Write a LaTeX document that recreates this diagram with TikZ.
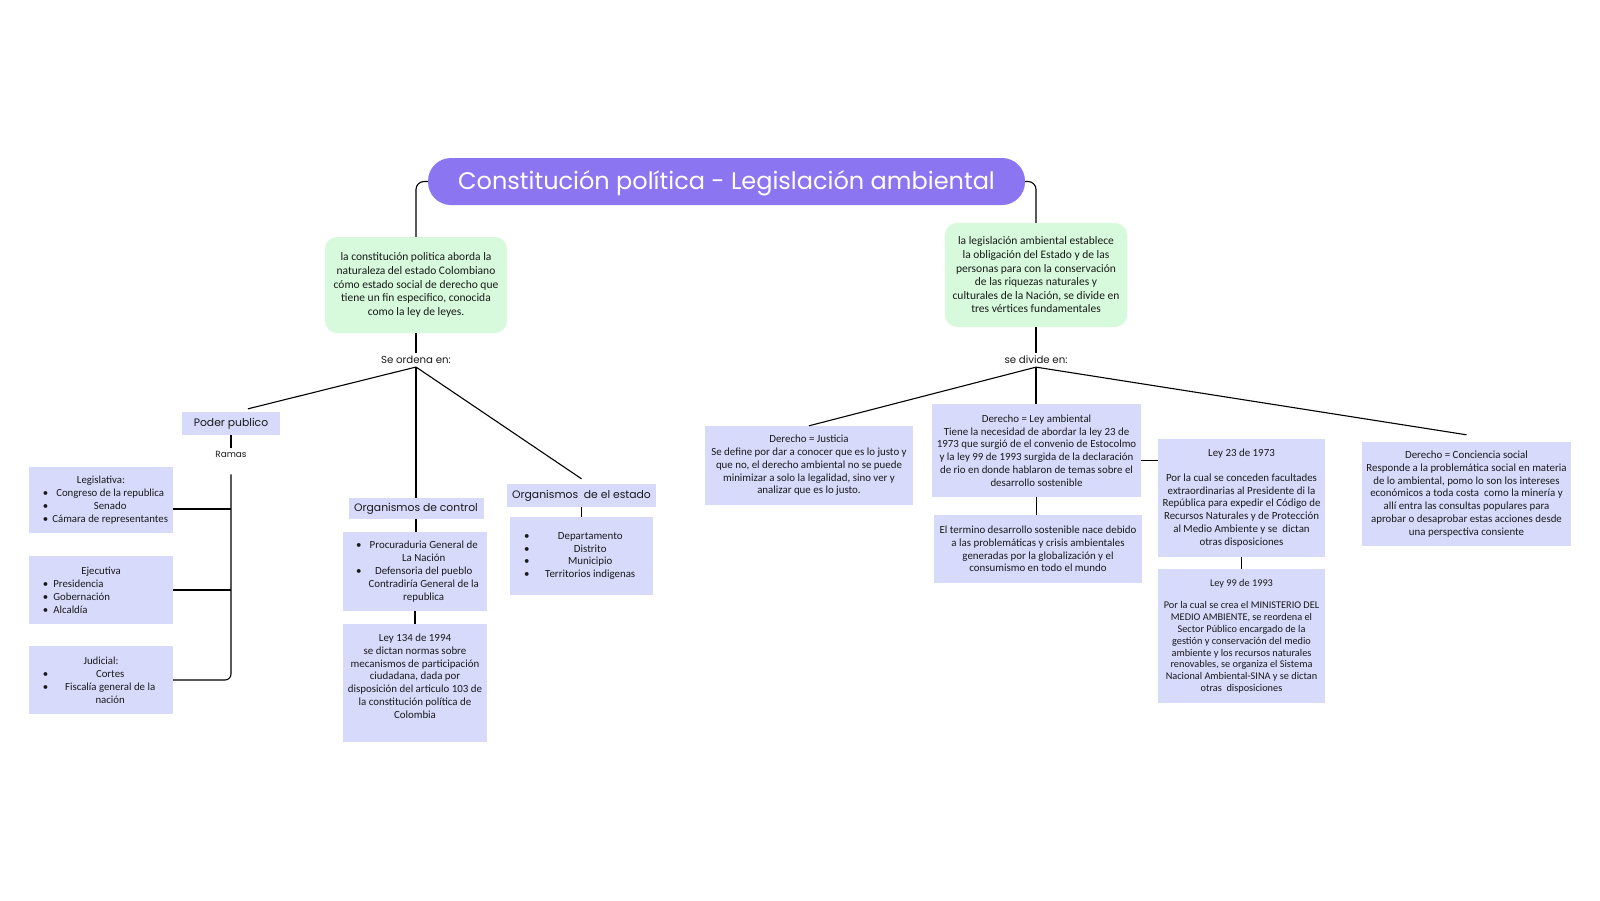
\documentclass[tikz,border=0pt]{standalone}
\usepackage{fontspec}
\setmainfont{Carlito}
\newfontfamily\headfont{Poppins}
\usepackage{tikz}
\usetikzlibrary{positioning}
\definecolor{titlepurple}{RGB}{139,117,241}
\definecolor{mint}{RGB}{215,250,220}
\definecolor{lavender}{RGB}{216,218,252}
\definecolor{ink}{RGB}{25,25,25}

% bullet lines: shift, width, text
\newcommand{\bitem}[3]{\hbox{\hskip#1\hbox to #2{\textbullet\hfil #3\hfil}}}
\newcommand{\litem}[3]{\hbox{\hskip#1\hbox to #2{\textbullet\hskip5pt #3\hfil}}}
\newcommand{\nitem}[3]{\hbox{\hskip#1\hbox to #2{\phantom{\textbullet}\hfil #3\hfil}}}

\tikzset{
  mainbox/.style={fill=titlepurple, text=white, rounded corners=23pt, inner sep=0pt,
    text height=16.7pt, text depth=0pt, font=\headfont\fontsize{24}{28}\selectfont},
  notebox/.style={fill=mint, text=ink, rounded corners=12pt, align=center, inner sep=0pt,
    font=\fontsize{11.5}{13.6}\selectfont},
  leafbox/.style={fill=lavender, text=ink, align=center, inner sep=0pt,
    font=\fontsize{10.9}{12.8}\selectfont},
  sidebox/.style={leafbox, font=\fontsize{10.8}{13}\selectfont,
    minimum width=144pt, minimum height=68pt},
  tagbox/.style={fill=lavender, text=ink, inner sep=0pt,
    font=\headfont\fontsize{10.8}{13}\selectfont},
  joint/.style={text=ink, inner xsep=1pt, inner ysep=3pt,
    font=\headfont\fontsize{10.2}{12}\selectfont},
  link/.style={line width=1.1pt},
}

\begin{document}
\begin{tikzpicture}[x=1pt,y=-1pt]
  \fill[white] (0,0) rectangle (1600,900);
  \useasboundingbox (0,0) rectangle (1600,900);

  \node[mainbox, minimum width=597pt, minimum height=47pt] (title) at (726.5,181.5)
    {Constitución política - Legislación ambiental};

  % left half: constitucion
  \node[notebox, minimum width=182pt, minimum height=96pt] (constit) at (416,285) {
    la constitución politica aborda la\\ naturaleza del estado Colombiano\\
    cómo estado social de derecho que\\ tiene un fin especifico, conocida\\
    como la ley de leyes.};
  \node[joint] (ordena) at (416,360) {Se ordena en:};

  \node[tagbox, minimum width=98pt, minimum height=23pt] (pp) at (231,423.5) {Poder publico};
  \node[joint, font=\headfont\fontsize{8.9}{10}\selectfont] (ramas) at (231,454) {Ramas};

  \node[sidebox, minimum height=66pt] (leg) at (101,500) {Legislativa:\\
    \bitem{13pt}{129pt}{Congreso de la republica}\\ \bitem{13pt}{129pt}{Senado}\\
    \bitem{13pt}{129pt}{Cámara de representantes}};
  \node[sidebox] (eje) at (101,590) {Ejecutiva\\ \litem{13pt}{129pt}{Presidencia}\\
    \litem{13pt}{129pt}{Gobernación}\\ \litem{13pt}{129pt}{Alcaldía}};
  \node[sidebox] (jud) at (101,680) {Judicial:\\ \bitem{13pt}{129pt}{Cortes}\\
    \bitem{13pt}{129pt}{Fiscalía general de la}\\ \nitem{13pt}{129pt}{nación}};

  \node[tagbox, minimum width=135pt, minimum height=21pt] (oc) at (416,508.5) {Organismos de control};
  \node[leafbox, minimum width=144pt, minimum height=79pt] (ocl) at (415,571.5) {
    \bitem{12pt}{130pt}{Procuraduria General de}\\ \nitem{12pt}{130pt}{La Nación}\\
    \bitem{12pt}{130pt}{Defensoria del pueblo}\\ \nitem{12pt}{130pt}{Contradiría General de la}\\
    \nitem{12pt}{130pt}{republica}};
  \node[leafbox, minimum width=144pt, minimum height=118pt] (l134) at (415,683) {
    Ley 134 de 1994\\ se dictan normas sobre\\ mecanismos de participación\\
    ciudadana, dada por\\ disposición del articulo 103 de\\ la constitución política de\\
    Colombia\\[1pt]\mbox{}};

  \node[tagbox, minimum width=149pt, minimum height=23pt] (oe) at (581.5,495.5) {Organismos\ \ de el estado};
  \node[leafbox, minimum width=143pt, minimum height=78pt] (oel) at (581.5,556) {
    \bitem{12pt}{127pt}{Departamento}\\ \bitem{12pt}{127pt}{Distrito}\\
    \bitem{12pt}{127pt}{Municipio}\\ \bitem{12pt}{127pt}{Territorios indigenas}};

  % right half: legislacion
  \node[notebox, minimum width=182pt, minimum height=104pt] (legis) at (1036,275) {
    la legislación ambiental establece\\ la obligación del Estado y de las\\
    personas para con la conservación\\ de las riquezas naturales y\\
    culturales de la Nación, se divide en\\ tres vértices fundamentales};
  \node[joint] (divide) at (1036,360) {se divide en:};

  \node[leafbox, minimum width=208pt, minimum height=79pt] (jus) at (809,465.5) {
    Derecho = Justicia\\ Se define por dar a conocer que es lo justo y\\
    que no, el derecho ambiental no se puede\\ minimizar a solo la legalidad, sino ver y\\
    analizar que es lo justo.};
  \node[leafbox, minimum width=209pt, minimum height=93pt] (la) at (1036.5,450.5) {
    Derecho = Ley ambiental\\ Tiene la necesidad de abordar la ley 23 de\\
    1973 que surgió de el convenio de Estocolmo\\ y la ley 99 de 1993 surgida de la declaración\\
    de rio en donde hablaron de temas sobre el\\ desarrollo sostenible};
  \node[leafbox, minimum width=208pt, minimum height=68pt] (ds) at (1038,549) {
    El termino desarrollo sostenible nace debido\\ a las problemáticas y crisis ambientales\\
    generadas por la globalización y el\\ consumismo en todo el mundo};
  \node[leafbox, minimum width=167pt, minimum height=118pt] (l23) at (1241.5,498) {
    Ley 23 de 1973\\[12pt] Por la cual se conceden facultades\\
    extraordinarias al Presidente di la\\ República para expedir el Código de\\
    Recursos Naturales y de Protección\\ al Medio Ambiente y se\ \ dictan\\
    otras disposiciones};
  \node[leafbox, font=\fontsize{10.3}{11.8}\selectfont, minimum width=167pt, minimum height=134pt]
    (l99) at (1241.5,636) {
    Ley 99 de 1993\\[11pt] Por la cual se crea el MINISTERIO DEL\\
    MEDIO AMBIENTE, se reordena el\\ Sector Público encargado de la\\
    gestión y conservación del medio\\ ambiente y los recursos naturales\\
    renovables, se organiza el Sistema\\ Nacional Ambiental-SINA y se dictan\\
    otras\ \ disposiciones};
  \node[leafbox, font=\fontsize{10.9}{12.7}\selectfont, minimum width=209pt, minimum height=104pt]
    (cs) at (1466.5,494) {
    Derecho = Conciencia social\\ Responde a la problemática social en materia\\
    de lo ambiental, pomo lo son los intereses\\ económicos a toda costa\ \ como la minería y\\
    allí entra las consultas populares para\\ aprobar o desaprobar estas acciones desde\\
    una perspectiva consiente};

  % connectors
  \draw[link, rounded corners=8pt] (title.west) -| (constit.north);
  \draw[link, rounded corners=8pt] (title.east) -| (legis.north);
  \draw[link] (constit.south) -- (ordena.north);
  \draw[link] (ordena.south) -- ([xshift=17pt,yshift=3pt]pp.north);
  \draw[link] (ordena.south) -- (ordena.south |- oc.north);
  \draw[link] (ordena.south) -- ([yshift=5pt]oe.north);
  \draw[link] (pp.south) -- (ramas.north);
  \draw[link, rounded corners=6pt] ([yshift=-14pt]ramas.south) |- (jud.east);
  \draw[link] ([yshift=-9pt]leg.east) -- ([yshift=-9pt]leg.east -| ramas.south);
  \draw[link] (eje.east) -- (eje.east -| ramas.south);
  \draw[link] (oc.south) -- (oc.south |- ocl.north);
  \draw[link] (ocl.south) -- (ocl.south |- l134.north);
  \draw[link] (oe.south) -- (oel.north);

  \draw[link] (legis.south) -- (divide.north);
  \draw[link] (divide.south) -- (jus.north);
  \draw[link] (divide.south) -- (divide.south |- la.north);
  \draw[link] (divide.south) -- ([yshift=7pt]cs.north);
  \draw[link] (la.south) -- (la.south |- ds.north);
  \draw[link] ([yshift=-10pt]la.east) -- ([yshift=-10pt]la.east -| l23.west);
  \draw[link] (l23.south) -- (l99.north);
\end{tikzpicture}
\end{document}
